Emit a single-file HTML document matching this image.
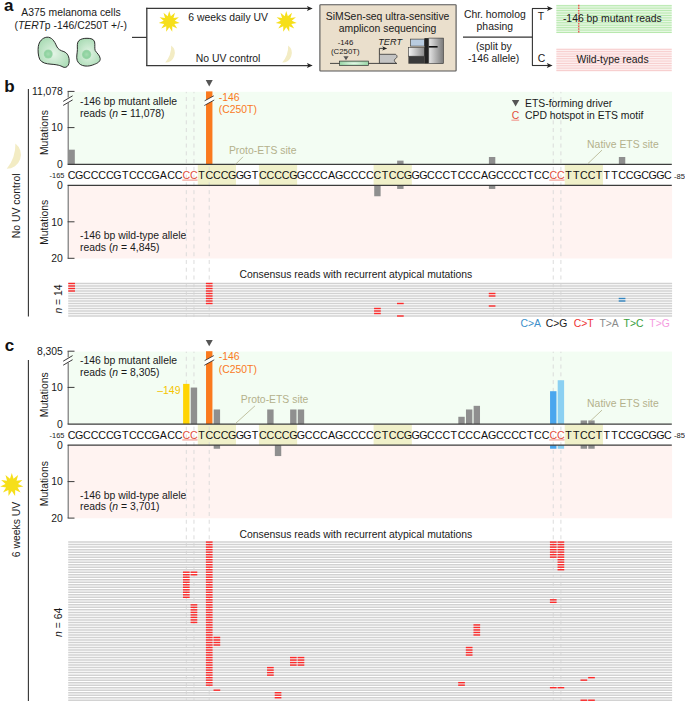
<!DOCTYPE html>
<html><head><meta charset="utf-8"><style>
html,body{margin:0;padding:0;background:#fff;}
svg{display:block;}
text{font-family:"Liberation Sans", sans-serif;}
</style></head><body>
<svg width="685" height="701" viewBox="0 0 685 701">
<rect width="685" height="701" fill="#fff"/>
<text x="4.10" y="10.50" font-size="17" fill="#111" text-anchor="start" font-weight="bold" font-style="normal" >a</text>
<text x="71.00" y="15.80" font-size="10.4" fill="#1a1a1a" text-anchor="middle" font-weight="normal" font-style="normal" >A375 melanoma cells</text>
<text x="70.7" y="29.2" font-size="10.4" fill="#1a1a1a" text-anchor="middle">(<tspan font-style="italic">TERT</tspan>p -146/C250T +/-)</text>
<defs><radialGradient id="cellg" cx="50%" cy="55%" r="60%"><stop offset="0" stop-color="#e4f4e6"/><stop offset="1" stop-color="#a9dbb4"/></radialGradient><radialGradient id="nucg"><stop offset="0" stop-color="#a6dcb1"/><stop offset="0.7" stop-color="#8ed2a0"/><stop offset="1" stop-color="#9ed8ab"/></radialGradient><linearGradient id="boxg" x1="0" x2="1"><stop offset="0" stop-color="#f4f4f4"/><stop offset="1" stop-color="#8a8a8a"/></linearGradient><linearGradient id="boxg2" x1="0" x2="1"><stop offset="0" stop-color="#e6e6e6"/><stop offset="1" stop-color="#7a7a7a"/></linearGradient><radialGradient id="amp" cx="50%" cy="50%" r="50%"><stop offset="0" stop-color="#e8f8ea"/><stop offset="1" stop-color="#9bd6a8"/></radialGradient></defs>
<path d="M46.9,37.2 C51.5,36.8 54.5,41 56.5,46 C58,49.5 60.5,50.5 63.9,51.6 C67.5,53 69.6,57 69.1,62.1 C68.6,66.5 66,68.2 63,67 C60.5,65.5 57,64.6 51,64.2 C46,63.8 42,63 39.8,59.5 C38,56 37.8,50 38.3,46.5 C39,41.5 42.5,37.6 46.9,37.2Z" fill="url(#cellg)" stroke="#222" stroke-width="0.95"/>
<circle cx="48.2" cy="54" r="4.5" fill="url(#nucg)"/>
<path d="M79,40.5 C81,38.8 84,38.3 87,38.3 C91,38.3 93.8,39 94.6,42 C95.2,45 94.4,48.5 95.2,50.5 C96.5,53 99.8,55 100.2,58.5 C100.5,61.5 97.5,63.2 94.5,64.3 C91.5,65.6 88.5,66.4 85,66 C81.5,65.6 78.5,64 77.2,60.5 C76,57 77.4,53 77.4,49.5 C77.4,46 76.8,42.5 79,40.5Z" fill="url(#cellg)" stroke="#222" stroke-width="0.95"/>
<circle cx="86.6" cy="54.5" r="4.7" fill="url(#nucg)"/>
<line x1="132.00" y1="37.40" x2="146.80" y2="37.40" stroke="#383838" stroke-width="1.2" />
<line x1="146.80" y1="7.70" x2="146.80" y2="66.10" stroke="#383838" stroke-width="1.3" />
<line x1="146.20" y1="8.40" x2="309.00" y2="8.40" stroke="#383838" stroke-width="1.2" />
<line x1="146.20" y1="65.60" x2="309.00" y2="65.60" stroke="#383838" stroke-width="1.2" />
<path d="M312.70,8.40 L306.90,5.90 L308.20,8.40 L306.90,10.90Z" fill="#222"/>
<path d="M312.70,65.60 L306.90,63.10 L308.20,65.60 L306.90,68.10Z" fill="#222"/>
<polygon points="169.25,11.00 170.83,16.23 174.98,12.68 173.48,17.93 178.89,17.20 174.79,20.80 179.74,23.11 174.34,23.93 177.26,28.54 172.28,26.31 172.24,31.77 169.25,27.20 166.26,31.77 166.22,26.31 161.24,28.54 164.16,23.93 158.76,23.11 163.71,20.80 159.61,17.20 165.02,17.93 163.52,12.68 167.67,16.23" fill="#f6df1a"/>
<polygon points="286.25,11.00 287.83,16.23 291.98,12.68 290.48,17.93 295.89,17.20 291.79,20.80 296.74,23.11 291.34,23.93 294.26,28.54 289.28,26.31 289.24,31.77 286.25,27.20 283.26,31.77 283.22,26.31 278.24,28.54 281.16,23.93 275.76,23.11 280.71,20.80 276.61,17.20 282.02,17.93 280.52,12.68 284.67,16.23" fill="#f6df1a"/>
<text x="228.10" y="20.70" font-size="10.4" fill="#1a1a1a" text-anchor="middle" font-weight="normal" font-style="normal" >6 weeks daily UV</text>
<text x="228.10" y="62.00" font-size="10.4" fill="#1a1a1a" text-anchor="middle" font-weight="normal" font-style="normal" >No UV control</text>
<path d="M171.20,45.60 A9.55,9.55 0 0 1 165.20,62.60 A24.75,24.75 0 0 0 171.20,45.60Z" fill="#f3ecc4"/>
<path d="M288.20,45.60 A9.55,9.55 0 0 1 282.20,62.60 A24.75,24.75 0 0 0 288.20,45.60Z" fill="#f3ecc4"/>
<rect x="319.9" y="4.7" width="136.2" height="66.3" rx="0.6" fill="#eadfcc" stroke="#555" stroke-width="1.1"/>
<text x="387.60" y="20.00" font-size="10.4" fill="#1a1a1a" text-anchor="middle" font-weight="normal" font-style="normal" >SiMSen-seq ultra-sensitive</text>
<text x="387.60" y="32.40" font-size="10.4" fill="#1a1a1a" text-anchor="middle" font-weight="normal" font-style="normal" >amplicon sequencing</text>
<text x="345.50" y="44.80" font-size="7.8" fill="#1a1a1a" text-anchor="middle" font-weight="normal" font-style="normal" >-146</text>
<text x="345.30" y="54.30" font-size="7.8" fill="#1a1a1a" text-anchor="middle" font-weight="normal" font-style="normal" >(C250T)</text>
<polygon points="343.4,56.2 348.6,56.2 346.0,60.2" fill="#555"/>
<line x1="330.00" y1="63.40" x2="397.00" y2="63.40" stroke="#333" stroke-width="0.9" />
<rect x="339.5" y="61.1" width="29" height="4.3" fill="url(#amp)" stroke="#333" stroke-width="0.7"/>
<text x="378.20" y="44.80" font-size="9.2" fill="#1a1a1a" text-anchor="start" font-weight="normal" font-style="italic" >TERT</text>
<path d="M379.4,54.3 L395.4,54.3 C397.6,55.4 397.4,57.6 395.6,58.6 C393.6,59.8 394.2,61.6 396.4,63.3 L379.4,63.3Z" fill="#c4c4c4" stroke="#333" stroke-width="0.8"/>
<path d="M379.4,54.3 L379.4,48.4 L384.3,48.4" fill="none" stroke="#222" stroke-width="0.8"/>
<path d="M387.20,48.40 L382.20,46.20 L383.50,48.40 L382.20,50.60Z" fill="#222"/>
<rect x="410.6" y="39.1" width="14" height="7" fill="#b9cce0" stroke="#333" stroke-width="0.6"/>
<rect x="408.4" y="47.6" width="16.2" height="8.6" fill="url(#boxg)" stroke="#333" stroke-width="0.6"/>
<rect x="408.4" y="56.2" width="16.2" height="7.5" fill="#3a3a3a"/>
<rect x="424.4" y="38.1" width="4.4" height="25.6" fill="#222"/>
<rect x="428.8" y="38.1" width="14.6" height="25.6" fill="url(#boxg2)" stroke="#333" stroke-width="0.6"/>
<line x1="428.80" y1="46.80" x2="437.60" y2="46.80" stroke="#111" stroke-width="1.6" />
<text x="494.80" y="18.00" font-size="10.4" fill="#1a1a1a" text-anchor="middle" font-weight="normal" font-style="normal" >Chr. homolog</text>
<text x="494.80" y="29.90" font-size="10.4" fill="#1a1a1a" text-anchor="middle" font-weight="normal" font-style="normal" >phasing</text>
<line x1="463.00" y1="37.10" x2="532.40" y2="37.10" stroke="#333" stroke-width="1.1" />
<text x="493.80" y="49.90" font-size="10.4" fill="#1a1a1a" text-anchor="middle" font-weight="normal" font-style="normal" >(split by</text>
<text x="493.60" y="61.80" font-size="10.4" fill="#1a1a1a" text-anchor="middle" font-weight="normal" font-style="normal" >-146 allele)</text>
<line x1="532.40" y1="8.50" x2="532.40" y2="65.50" stroke="#333" stroke-width="1.1" />
<line x1="532.00" y1="8.50" x2="549.00" y2="8.50" stroke="#333" stroke-width="1.1" />
<line x1="532.00" y1="65.50" x2="549.00" y2="65.50" stroke="#333" stroke-width="1.1" />
<path d="M552.80,8.50 L547.00,6.00 L548.30,8.50 L547.00,11.00Z" fill="#222"/>
<path d="M552.60,65.50 L546.80,63.00 L548.10,65.50 L546.80,68.00Z" fill="#222"/>
<text x="541.00" y="19.70" font-size="10.4" fill="#1a1a1a" text-anchor="middle" font-weight="normal" font-style="normal" >T</text>
<text x="541.40" y="61.80" font-size="10.4" fill="#1a1a1a" text-anchor="middle" font-weight="normal" font-style="normal" >C</text>
<rect x="556.40" y="4.80" width="115.30" height="28.20" fill="#e6f7e2" />
<line x1="556.40" y1="5.70" x2="671.70" y2="5.70" stroke="#b6e8ad" stroke-width="1.0" />
<line x1="556.40" y1="8.14" x2="671.70" y2="8.14" stroke="#b6e8ad" stroke-width="1.0" />
<line x1="556.40" y1="10.58" x2="671.70" y2="10.58" stroke="#b6e8ad" stroke-width="1.0" />
<line x1="556.40" y1="13.02" x2="671.70" y2="13.02" stroke="#b6e8ad" stroke-width="1.0" />
<line x1="556.40" y1="15.46" x2="671.70" y2="15.46" stroke="#b6e8ad" stroke-width="1.0" />
<line x1="556.40" y1="17.90" x2="671.70" y2="17.90" stroke="#b6e8ad" stroke-width="1.0" />
<line x1="556.40" y1="20.34" x2="671.70" y2="20.34" stroke="#b6e8ad" stroke-width="1.0" />
<line x1="556.40" y1="22.78" x2="671.70" y2="22.78" stroke="#b6e8ad" stroke-width="1.0" />
<line x1="556.40" y1="25.22" x2="671.70" y2="25.22" stroke="#b6e8ad" stroke-width="1.0" />
<line x1="556.40" y1="27.66" x2="671.70" y2="27.66" stroke="#b6e8ad" stroke-width="1.0" />
<line x1="556.40" y1="30.10" x2="671.70" y2="30.10" stroke="#b6e8ad" stroke-width="1.0" />
<line x1="556.40" y1="32.54" x2="671.70" y2="32.54" stroke="#b6e8ad" stroke-width="1.0" />
<line x1="578.8" y1="4.8" x2="578.8" y2="33" stroke="#f03030" stroke-width="1.1" stroke-dasharray="1.6,1.0"/>
<text x="612.30" y="21.60" font-size="10.4" fill="#1a1a1a" text-anchor="middle" font-weight="normal" font-style="normal" >-146 bp mutant reads</text>
<rect x="556.40" y="48.60" width="115.30" height="23.00" fill="#fdf0f0" />
<line x1="556.40" y1="49.30" x2="671.70" y2="49.30" stroke="#f7cccc" stroke-width="1.0" />
<line x1="556.40" y1="51.65" x2="671.70" y2="51.65" stroke="#f7cccc" stroke-width="1.0" />
<line x1="556.40" y1="54.00" x2="671.70" y2="54.00" stroke="#f7cccc" stroke-width="1.0" />
<line x1="556.40" y1="56.35" x2="671.70" y2="56.35" stroke="#f7cccc" stroke-width="1.0" />
<line x1="556.40" y1="58.70" x2="671.70" y2="58.70" stroke="#f7cccc" stroke-width="1.0" />
<line x1="556.40" y1="61.05" x2="671.70" y2="61.05" stroke="#f7cccc" stroke-width="1.0" />
<line x1="556.40" y1="63.40" x2="671.70" y2="63.40" stroke="#f7cccc" stroke-width="1.0" />
<line x1="556.40" y1="65.75" x2="671.70" y2="65.75" stroke="#f7cccc" stroke-width="1.0" />
<line x1="556.40" y1="68.10" x2="671.70" y2="68.10" stroke="#f7cccc" stroke-width="1.0" />
<line x1="556.40" y1="70.45" x2="671.70" y2="70.45" stroke="#f7cccc" stroke-width="1.0" />
<text x="612.50" y="62.60" font-size="10.4" fill="#1a1a1a" text-anchor="middle" font-weight="normal" font-style="normal" >Wild-type reads</text>
<rect x="68.90" y="91.80" width="603.10" height="72.50" fill="#f3fdf3" />
<rect x="68.90" y="185.30" width="603.20" height="73.20" fill="#fff3f1" />
<rect x="197.76" y="164.30" width="38.22" height="21.00" fill="#f0f0c9" />
<rect x="258.93" y="164.30" width="38.22" height="21.00" fill="#f0f0c9" />
<rect x="373.60" y="164.30" width="38.22" height="21.00" fill="#f0f0c9" />
<rect x="564.72" y="164.30" width="38.22" height="21.00" fill="#f0f0c9" />
<line x1="186.30" y1="91.90" x2="186.30" y2="317.00" stroke="#d8d8d8" stroke-width="0.9" stroke-dasharray="4.0,3.76" stroke-dashoffset="2.65"/>
<line x1="193.94" y1="91.90" x2="193.94" y2="317.00" stroke="#d8d8d8" stroke-width="0.9" stroke-dasharray="4.0,3.76" stroke-dashoffset="2.65"/>
<line x1="209.23" y1="91.90" x2="209.23" y2="317.00" stroke="#d8d8d8" stroke-width="0.9" stroke-dasharray="4.0,3.76" stroke-dashoffset="2.65"/>
<line x1="553.26" y1="91.90" x2="553.26" y2="317.00" stroke="#d8d8d8" stroke-width="0.9" stroke-dasharray="4.0,3.76" stroke-dashoffset="2.65"/>
<line x1="560.90" y1="91.90" x2="560.90" y2="317.00" stroke="#d8d8d8" stroke-width="0.9" stroke-dasharray="4.0,3.76" stroke-dashoffset="2.65"/>
<rect x="68.42" y="149.68" width="6.40" height="14.62" fill="#8f8f8f" />
<rect x="206.03" y="91.40" width="6.40" height="72.90" fill="#fa7a1e" />
<rect x="397.16" y="160.65" width="6.40" height="3.65" fill="#8f8f8f" />
<rect x="488.90" y="156.99" width="6.40" height="7.31" fill="#8f8f8f" />
<rect x="618.86" y="156.99" width="6.40" height="7.31" fill="#8f8f8f" />
<rect x="374.22" y="185.30" width="6.40" height="10.96" fill="#8f8f8f" />
<rect x="397.16" y="185.30" width="6.40" height="3.65" fill="#8f8f8f" />
<rect x="488.90" y="185.30" width="6.40" height="3.65" fill="#8f8f8f" />
<line x1="68.25" y1="91.40" x2="68.25" y2="164.30" stroke="#8c8c8c" stroke-width="1.4" />
<line x1="68.25" y1="185.30" x2="68.25" y2="258.30" stroke="#8c8c8c" stroke-width="1.4" />
<line x1="67.60" y1="91.40" x2="74.50" y2="91.40" stroke="#3c3c3c" stroke-width="1" />
<line x1="67.60" y1="127.60" x2="74.50" y2="127.60" stroke="#3c3c3c" stroke-width="1" />
<line x1="67.60" y1="221.80" x2="74.50" y2="221.80" stroke="#3c3c3c" stroke-width="1" />
<line x1="67.60" y1="258.30" x2="74.50" y2="258.30" stroke="#3c3c3c" stroke-width="1" />
<rect x="66.00" y="97.50" width="5.00" height="5.50" fill="#ffffff" />
<line x1="63.20" y1="101.40" x2="72.60" y2="95.80" stroke="#222" stroke-width="0.9" />
<line x1="63.20" y1="105.40" x2="72.60" y2="99.90" stroke="#222" stroke-width="0.9" />
<polygon points="204.33,105.50 214.23,100.00 213.83,95.80 204.63,100.80" fill="#ffffff"/>
<line x1="204.63" y1="100.80" x2="213.83" y2="95.80" stroke="#222" stroke-width="0.8" />
<line x1="204.33" y1="105.50" x2="214.23" y2="100.00" stroke="#222" stroke-width="0.8" />
<polygon points="205.73,80.10 212.73,80.10 209.23,86.50" fill="#555"/>
<line x1="67.60" y1="164.30" x2="671.80" y2="164.30" stroke="#3c3c3c" stroke-width="1.2" />
<line x1="67.60" y1="185.30" x2="671.80" y2="185.30" stroke="#3c3c3c" stroke-width="1.2" />
<text x="62.90" y="94.90" font-size="10.4" fill="#1a1a1a" text-anchor="end" font-weight="normal" font-style="normal" >11,078</text>
<text x="62.90" y="131.40" font-size="10.4" fill="#1a1a1a" text-anchor="end" font-weight="normal" font-style="normal" >10</text>
<text x="62.90" y="167.90" font-size="10.4" fill="#1a1a1a" text-anchor="end" font-weight="normal" font-style="normal" >0</text>
<text x="62.90" y="189.00" font-size="10.4" fill="#1a1a1a" text-anchor="end" font-weight="normal" font-style="normal" >0</text>
<text x="62.90" y="225.50" font-size="10.4" fill="#1a1a1a" text-anchor="end" font-weight="normal" font-style="normal" >10</text>
<text x="62.90" y="262.00" font-size="10.4" fill="#1a1a1a" text-anchor="end" font-weight="normal" font-style="normal" >20</text>
<text transform="translate(48.1,132.50) rotate(-90)" font-size="10.4" fill="#1a1a1a" text-anchor="middle">Mutations</text>
<text transform="translate(48.1,222.30) rotate(-90)" font-size="10.4" fill="#1a1a1a" text-anchor="middle">Mutations</text>
<text x="71.62" y="178.90" font-size="10.67" fill="#111" text-anchor="middle" font-weight="normal" font-style="normal" >C</text>
<text x="79.27" y="178.90" font-size="10.67" fill="#111" text-anchor="middle" font-weight="normal" font-style="normal" >G</text>
<text x="86.91" y="178.90" font-size="10.67" fill="#111" text-anchor="middle" font-weight="normal" font-style="normal" >C</text>
<text x="94.56" y="178.90" font-size="10.67" fill="#111" text-anchor="middle" font-weight="normal" font-style="normal" >C</text>
<text x="102.20" y="178.90" font-size="10.67" fill="#111" text-anchor="middle" font-weight="normal" font-style="normal" >C</text>
<text x="109.85" y="178.90" font-size="10.67" fill="#111" text-anchor="middle" font-weight="normal" font-style="normal" >C</text>
<text x="117.49" y="178.90" font-size="10.67" fill="#111" text-anchor="middle" font-weight="normal" font-style="normal" >G</text>
<text x="125.14" y="178.90" font-size="10.67" fill="#111" text-anchor="middle" font-weight="normal" font-style="normal" >T</text>
<text x="132.78" y="178.90" font-size="10.67" fill="#111" text-anchor="middle" font-weight="normal" font-style="normal" >C</text>
<text x="140.43" y="178.90" font-size="10.67" fill="#111" text-anchor="middle" font-weight="normal" font-style="normal" >C</text>
<text x="148.07" y="178.90" font-size="10.67" fill="#111" text-anchor="middle" font-weight="normal" font-style="normal" >C</text>
<text x="155.72" y="178.90" font-size="10.67" fill="#111" text-anchor="middle" font-weight="normal" font-style="normal" >G</text>
<text x="163.36" y="178.90" font-size="10.67" fill="#111" text-anchor="middle" font-weight="normal" font-style="normal" >A</text>
<text x="171.01" y="178.90" font-size="10.67" fill="#111" text-anchor="middle" font-weight="normal" font-style="normal" >C</text>
<text x="178.65" y="178.90" font-size="10.67" fill="#111" text-anchor="middle" font-weight="normal" font-style="normal" >C</text>
<text x="186.30" y="178.90" font-size="10.67" fill="#e2503e" text-anchor="middle" font-weight="normal" font-style="normal" >C</text>
<text x="193.94" y="178.90" font-size="10.67" fill="#e2503e" text-anchor="middle" font-weight="normal" font-style="normal" >C</text>
<text x="201.59" y="178.90" font-size="10.67" fill="#111" text-anchor="middle" font-weight="normal" font-style="normal" >T</text>
<text x="209.23" y="178.90" font-size="10.67" fill="#111" text-anchor="middle" font-weight="normal" font-style="normal" >C</text>
<text x="216.88" y="178.90" font-size="10.67" fill="#111" text-anchor="middle" font-weight="normal" font-style="normal" >C</text>
<text x="224.52" y="178.90" font-size="10.67" fill="#111" text-anchor="middle" font-weight="normal" font-style="normal" >C</text>
<text x="232.17" y="178.90" font-size="10.67" fill="#111" text-anchor="middle" font-weight="normal" font-style="normal" >G</text>
<text x="239.81" y="178.90" font-size="10.67" fill="#111" text-anchor="middle" font-weight="normal" font-style="normal" >G</text>
<text x="247.46" y="178.90" font-size="10.67" fill="#111" text-anchor="middle" font-weight="normal" font-style="normal" >G</text>
<text x="255.10" y="178.90" font-size="10.67" fill="#111" text-anchor="middle" font-weight="normal" font-style="normal" >T</text>
<text x="262.75" y="178.90" font-size="10.67" fill="#111" text-anchor="middle" font-weight="normal" font-style="normal" >C</text>
<text x="270.39" y="178.90" font-size="10.67" fill="#111" text-anchor="middle" font-weight="normal" font-style="normal" >C</text>
<text x="278.04" y="178.90" font-size="10.67" fill="#111" text-anchor="middle" font-weight="normal" font-style="normal" >C</text>
<text x="285.68" y="178.90" font-size="10.67" fill="#111" text-anchor="middle" font-weight="normal" font-style="normal" >C</text>
<text x="293.33" y="178.90" font-size="10.67" fill="#111" text-anchor="middle" font-weight="normal" font-style="normal" >G</text>
<text x="300.97" y="178.90" font-size="10.67" fill="#111" text-anchor="middle" font-weight="normal" font-style="normal" >G</text>
<text x="308.62" y="178.90" font-size="10.67" fill="#111" text-anchor="middle" font-weight="normal" font-style="normal" >C</text>
<text x="316.26" y="178.90" font-size="10.67" fill="#111" text-anchor="middle" font-weight="normal" font-style="normal" >C</text>
<text x="323.91" y="178.90" font-size="10.67" fill="#111" text-anchor="middle" font-weight="normal" font-style="normal" >C</text>
<text x="331.55" y="178.90" font-size="10.67" fill="#111" text-anchor="middle" font-weight="normal" font-style="normal" >A</text>
<text x="339.20" y="178.90" font-size="10.67" fill="#111" text-anchor="middle" font-weight="normal" font-style="normal" >G</text>
<text x="346.84" y="178.90" font-size="10.67" fill="#111" text-anchor="middle" font-weight="normal" font-style="normal" >C</text>
<text x="354.49" y="178.90" font-size="10.67" fill="#111" text-anchor="middle" font-weight="normal" font-style="normal" >C</text>
<text x="362.13" y="178.90" font-size="10.67" fill="#111" text-anchor="middle" font-weight="normal" font-style="normal" >C</text>
<text x="369.78" y="178.90" font-size="10.67" fill="#111" text-anchor="middle" font-weight="normal" font-style="normal" >C</text>
<text x="377.42" y="178.90" font-size="10.67" fill="#111" text-anchor="middle" font-weight="normal" font-style="normal" >C</text>
<text x="385.07" y="178.90" font-size="10.67" fill="#111" text-anchor="middle" font-weight="normal" font-style="normal" >T</text>
<text x="392.71" y="178.90" font-size="10.67" fill="#111" text-anchor="middle" font-weight="normal" font-style="normal" >C</text>
<text x="400.36" y="178.90" font-size="10.67" fill="#111" text-anchor="middle" font-weight="normal" font-style="normal" >C</text>
<text x="408.00" y="178.90" font-size="10.67" fill="#111" text-anchor="middle" font-weight="normal" font-style="normal" >G</text>
<text x="415.65" y="178.90" font-size="10.67" fill="#111" text-anchor="middle" font-weight="normal" font-style="normal" >G</text>
<text x="423.29" y="178.90" font-size="10.67" fill="#111" text-anchor="middle" font-weight="normal" font-style="normal" >G</text>
<text x="430.94" y="178.90" font-size="10.67" fill="#111" text-anchor="middle" font-weight="normal" font-style="normal" >C</text>
<text x="438.58" y="178.90" font-size="10.67" fill="#111" text-anchor="middle" font-weight="normal" font-style="normal" >C</text>
<text x="446.23" y="178.90" font-size="10.67" fill="#111" text-anchor="middle" font-weight="normal" font-style="normal" >C</text>
<text x="453.87" y="178.90" font-size="10.67" fill="#111" text-anchor="middle" font-weight="normal" font-style="normal" >T</text>
<text x="461.52" y="178.90" font-size="10.67" fill="#111" text-anchor="middle" font-weight="normal" font-style="normal" >C</text>
<text x="469.16" y="178.90" font-size="10.67" fill="#111" text-anchor="middle" font-weight="normal" font-style="normal" >C</text>
<text x="476.81" y="178.90" font-size="10.67" fill="#111" text-anchor="middle" font-weight="normal" font-style="normal" >C</text>
<text x="484.45" y="178.90" font-size="10.67" fill="#111" text-anchor="middle" font-weight="normal" font-style="normal" >A</text>
<text x="492.10" y="178.90" font-size="10.67" fill="#111" text-anchor="middle" font-weight="normal" font-style="normal" >G</text>
<text x="499.74" y="178.90" font-size="10.67" fill="#111" text-anchor="middle" font-weight="normal" font-style="normal" >C</text>
<text x="507.39" y="178.90" font-size="10.67" fill="#111" text-anchor="middle" font-weight="normal" font-style="normal" >C</text>
<text x="515.03" y="178.90" font-size="10.67" fill="#111" text-anchor="middle" font-weight="normal" font-style="normal" >C</text>
<text x="522.68" y="178.90" font-size="10.67" fill="#111" text-anchor="middle" font-weight="normal" font-style="normal" >C</text>
<text x="530.32" y="178.90" font-size="10.67" fill="#111" text-anchor="middle" font-weight="normal" font-style="normal" >T</text>
<text x="537.97" y="178.90" font-size="10.67" fill="#111" text-anchor="middle" font-weight="normal" font-style="normal" >C</text>
<text x="545.61" y="178.90" font-size="10.67" fill="#111" text-anchor="middle" font-weight="normal" font-style="normal" >C</text>
<text x="553.26" y="178.90" font-size="10.67" fill="#e2503e" text-anchor="middle" font-weight="normal" font-style="normal" >C</text>
<text x="560.90" y="178.90" font-size="10.67" fill="#e2503e" text-anchor="middle" font-weight="normal" font-style="normal" >C</text>
<text x="568.55" y="178.90" font-size="10.67" fill="#111" text-anchor="middle" font-weight="normal" font-style="normal" >T</text>
<text x="576.19" y="178.90" font-size="10.67" fill="#111" text-anchor="middle" font-weight="normal" font-style="normal" >T</text>
<text x="583.84" y="178.90" font-size="10.67" fill="#111" text-anchor="middle" font-weight="normal" font-style="normal" >C</text>
<text x="591.48" y="178.90" font-size="10.67" fill="#111" text-anchor="middle" font-weight="normal" font-style="normal" >C</text>
<text x="599.13" y="178.90" font-size="10.67" fill="#111" text-anchor="middle" font-weight="normal" font-style="normal" >T</text>
<text x="606.77" y="178.90" font-size="10.67" fill="#111" text-anchor="middle" font-weight="normal" font-style="normal" >T</text>
<text x="614.42" y="178.90" font-size="10.67" fill="#111" text-anchor="middle" font-weight="normal" font-style="normal" >T</text>
<text x="622.06" y="178.90" font-size="10.67" fill="#111" text-anchor="middle" font-weight="normal" font-style="normal" >C</text>
<text x="629.71" y="178.90" font-size="10.67" fill="#111" text-anchor="middle" font-weight="normal" font-style="normal" >C</text>
<text x="637.35" y="178.90" font-size="10.67" fill="#111" text-anchor="middle" font-weight="normal" font-style="normal" >G</text>
<text x="645.00" y="178.90" font-size="10.67" fill="#111" text-anchor="middle" font-weight="normal" font-style="normal" >C</text>
<text x="652.64" y="178.90" font-size="10.67" fill="#111" text-anchor="middle" font-weight="normal" font-style="normal" >G</text>
<text x="660.29" y="178.90" font-size="10.67" fill="#111" text-anchor="middle" font-weight="normal" font-style="normal" >G</text>
<text x="667.93" y="178.90" font-size="10.67" fill="#111" text-anchor="middle" font-weight="normal" font-style="normal" >C</text>
<line x1="182.28" y1="180.10" x2="197.56" y2="180.10" stroke="#f2a69c" stroke-width="1.3" />
<line x1="549.23" y1="180.10" x2="564.52" y2="180.10" stroke="#f2a69c" stroke-width="1.3" />
<text x="64.40" y="178.40" font-size="7.4" fill="#1a1a1a" text-anchor="end" font-weight="normal" font-style="normal" >-165</text>
<text x="673.90" y="178.50" font-size="7.6" fill="#1a1a1a" text-anchor="start" font-weight="normal" font-style="normal" >-85</text>
<text x="80.00" y="104.50" font-size="10.4" fill="#1a1a1a" text-anchor="start" font-weight="normal" font-style="normal" >-146 bp mutant allele</text>
<text x="80" y="117.00" font-size="10.4" fill="#1a1a1a">reads (<tspan font-style="italic">n</tspan> = 11,078)</text>
<text x="80.00" y="239.00" font-size="10.4" fill="#1a1a1a" text-anchor="start" font-weight="normal" font-style="normal" >-146 bp wild-type allele</text>
<text x="80" y="251.20" font-size="10.4" fill="#1a1a1a">reads (<tspan font-style="italic">n</tspan> = 4,845)</text>
<text x="218.80" y="100.60" font-size="10.4" fill="#fa7a1e" text-anchor="start" font-weight="normal" font-style="normal" >-146</text>
<text x="218.80" y="112.80" font-size="10.4" fill="#fa7a1e" text-anchor="start" font-weight="normal" font-style="normal" >(C250T)</text>
<text x="228.90" y="153.80" font-size="10.4" fill="#b3b18c" text-anchor="start" font-weight="normal" font-style="normal" >Proto-ETS site</text>
<line x1="243.00" y1="156.80" x2="235.50" y2="164.30" stroke="#b3b18c" stroke-width="0.8" />
<text x="587.10" y="147.50" font-size="10.4" fill="#b3b18c" text-anchor="start" font-weight="normal" font-style="normal" >Native ETS site</text>
<line x1="602.00" y1="150.10" x2="587.90" y2="163.60" stroke="#b3b18c" stroke-width="0.8" />
<text x="4.20" y="92.20" font-size="17" fill="#111" text-anchor="start" font-weight="bold" font-style="normal" >b</text>
<line x1="68.20" y1="283.50" x2="672.10" y2="283.50" stroke="#d2d2d2" stroke-width="1.5" />
<line x1="68.20" y1="286.00" x2="672.10" y2="286.00" stroke="#d2d2d2" stroke-width="1.5" />
<line x1="68.20" y1="288.50" x2="672.10" y2="288.50" stroke="#d2d2d2" stroke-width="1.5" />
<line x1="68.20" y1="291.00" x2="672.10" y2="291.00" stroke="#d2d2d2" stroke-width="1.5" />
<line x1="68.20" y1="293.50" x2="672.10" y2="293.50" stroke="#d2d2d2" stroke-width="1.5" />
<line x1="68.20" y1="296.00" x2="672.10" y2="296.00" stroke="#d2d2d2" stroke-width="1.5" />
<line x1="68.20" y1="298.50" x2="672.10" y2="298.50" stroke="#d2d2d2" stroke-width="1.5" />
<line x1="68.20" y1="301.00" x2="672.10" y2="301.00" stroke="#d2d2d2" stroke-width="1.5" />
<line x1="68.20" y1="303.50" x2="672.10" y2="303.50" stroke="#d2d2d2" stroke-width="1.5" />
<line x1="68.20" y1="306.00" x2="672.10" y2="306.00" stroke="#d2d2d2" stroke-width="1.5" />
<line x1="68.20" y1="308.50" x2="672.10" y2="308.50" stroke="#d2d2d2" stroke-width="1.5" />
<line x1="68.20" y1="311.00" x2="672.10" y2="311.00" stroke="#d2d2d2" stroke-width="1.5" />
<line x1="68.20" y1="313.50" x2="672.10" y2="313.50" stroke="#d2d2d2" stroke-width="1.5" />
<line x1="68.20" y1="316.00" x2="672.10" y2="316.00" stroke="#d2d2d2" stroke-width="1.5" />
<line x1="68.27" y1="283.50" x2="74.97" y2="283.50" stroke="#fc2a2a" stroke-width="1.4" />
<line x1="68.27" y1="286.00" x2="74.97" y2="286.00" stroke="#fc2a2a" stroke-width="1.4" />
<line x1="68.27" y1="288.50" x2="74.97" y2="288.50" stroke="#fc2a2a" stroke-width="1.4" />
<line x1="68.27" y1="291.00" x2="74.97" y2="291.00" stroke="#fc2a2a" stroke-width="1.4" />
<line x1="205.88" y1="283.50" x2="212.58" y2="283.50" stroke="#fc2a2a" stroke-width="1.4" />
<line x1="205.88" y1="286.00" x2="212.58" y2="286.00" stroke="#fc2a2a" stroke-width="1.4" />
<line x1="205.88" y1="288.50" x2="212.58" y2="288.50" stroke="#fc2a2a" stroke-width="1.4" />
<line x1="205.88" y1="291.00" x2="212.58" y2="291.00" stroke="#fc2a2a" stroke-width="1.4" />
<line x1="205.88" y1="293.50" x2="212.58" y2="293.50" stroke="#fc2a2a" stroke-width="1.4" />
<line x1="205.88" y1="296.00" x2="212.58" y2="296.00" stroke="#fc2a2a" stroke-width="1.4" />
<line x1="205.88" y1="298.50" x2="212.58" y2="298.50" stroke="#fc2a2a" stroke-width="1.4" />
<line x1="205.88" y1="301.00" x2="212.58" y2="301.00" stroke="#fc2a2a" stroke-width="1.4" />
<line x1="205.88" y1="303.50" x2="212.58" y2="303.50" stroke="#fc2a2a" stroke-width="1.4" />
<line x1="374.07" y1="308.50" x2="380.77" y2="308.50" stroke="#fc2a2a" stroke-width="1.4" />
<line x1="374.07" y1="311.00" x2="380.77" y2="311.00" stroke="#fc2a2a" stroke-width="1.4" />
<line x1="374.07" y1="313.50" x2="380.77" y2="313.50" stroke="#fc2a2a" stroke-width="1.4" />
<line x1="397.01" y1="303.50" x2="403.71" y2="303.50" stroke="#fc2a2a" stroke-width="1.4" />
<line x1="397.01" y1="316.00" x2="403.71" y2="316.00" stroke="#fc2a2a" stroke-width="1.4" />
<line x1="488.75" y1="293.50" x2="495.45" y2="293.50" stroke="#fc2a2a" stroke-width="1.4" />
<line x1="488.75" y1="296.00" x2="495.45" y2="296.00" stroke="#fc2a2a" stroke-width="1.4" />
<line x1="488.75" y1="306.00" x2="495.45" y2="306.00" stroke="#fc2a2a" stroke-width="1.4" />
<line x1="618.71" y1="298.50" x2="625.41" y2="298.50" stroke="#3285c0" stroke-width="1.4" />
<line x1="618.71" y1="301.00" x2="625.41" y2="301.00" stroke="#3285c0" stroke-width="1.4" />
<rect x="68.90" y="351.60" width="603.10" height="72.50" fill="#f3fdf3" />
<rect x="68.90" y="445.10" width="603.20" height="73.20" fill="#fff3f1" />
<rect x="197.76" y="424.10" width="38.22" height="21.00" fill="#f0f0c9" />
<rect x="258.93" y="424.10" width="38.22" height="21.00" fill="#f0f0c9" />
<rect x="373.60" y="424.10" width="38.22" height="21.00" fill="#f0f0c9" />
<rect x="564.72" y="424.10" width="38.22" height="21.00" fill="#f0f0c9" />
<line x1="186.30" y1="351.70" x2="186.30" y2="700.60" stroke="#d8d8d8" stroke-width="0.9" stroke-dasharray="4.0,3.76" stroke-dashoffset="2.65"/>
<line x1="193.94" y1="351.70" x2="193.94" y2="700.60" stroke="#d8d8d8" stroke-width="0.9" stroke-dasharray="4.0,3.76" stroke-dashoffset="2.65"/>
<line x1="209.23" y1="351.70" x2="209.23" y2="700.60" stroke="#d8d8d8" stroke-width="0.9" stroke-dasharray="4.0,3.76" stroke-dashoffset="2.65"/>
<line x1="553.26" y1="351.70" x2="553.26" y2="700.60" stroke="#d8d8d8" stroke-width="0.9" stroke-dasharray="4.0,3.76" stroke-dashoffset="2.65"/>
<line x1="560.90" y1="351.70" x2="560.90" y2="700.60" stroke="#d8d8d8" stroke-width="0.9" stroke-dasharray="4.0,3.76" stroke-dashoffset="2.65"/>
<rect x="183.10" y="383.90" width="6.40" height="40.20" fill="#ffd402" />
<rect x="190.74" y="387.55" width="6.40" height="36.55" fill="#8f8f8f" />
<rect x="206.03" y="351.20" width="6.40" height="72.90" fill="#fa7a1e" />
<rect x="213.68" y="409.48" width="6.40" height="14.62" fill="#8f8f8f" />
<rect x="267.19" y="409.48" width="6.40" height="14.62" fill="#8f8f8f" />
<rect x="290.13" y="409.48" width="6.40" height="14.62" fill="#8f8f8f" />
<rect x="297.77" y="409.48" width="6.40" height="14.62" fill="#8f8f8f" />
<rect x="458.32" y="416.79" width="6.40" height="7.31" fill="#8f8f8f" />
<rect x="465.96" y="409.48" width="6.40" height="14.62" fill="#8f8f8f" />
<rect x="473.61" y="405.83" width="6.40" height="18.27" fill="#8f8f8f" />
<rect x="550.06" y="391.21" width="6.40" height="32.89" fill="#4aa6ee" />
<rect x="557.70" y="380.24" width="6.40" height="43.86" fill="#8bd0f2" />
<rect x="580.64" y="420.45" width="6.40" height="3.65" fill="#8f8f8f" />
<rect x="588.28" y="420.45" width="6.40" height="3.65" fill="#8f8f8f" />
<rect x="213.68" y="445.10" width="6.40" height="3.65" fill="#8f8f8f" />
<rect x="274.84" y="445.10" width="6.40" height="10.96" fill="#8f8f8f" />
<rect x="550.06" y="445.10" width="6.40" height="3.65" fill="#4aa6ee" />
<rect x="557.70" y="445.10" width="6.40" height="3.65" fill="#8bd0f2" />
<rect x="580.64" y="445.10" width="6.40" height="3.65" fill="#8f8f8f" />
<rect x="588.28" y="445.10" width="6.40" height="3.65" fill="#8f8f8f" />
<line x1="68.25" y1="351.20" x2="68.25" y2="424.10" stroke="#8c8c8c" stroke-width="1.4" />
<line x1="68.25" y1="445.10" x2="68.25" y2="518.10" stroke="#8c8c8c" stroke-width="1.4" />
<line x1="67.60" y1="351.20" x2="74.50" y2="351.20" stroke="#3c3c3c" stroke-width="1" />
<line x1="67.60" y1="387.40" x2="74.50" y2="387.40" stroke="#3c3c3c" stroke-width="1" />
<line x1="67.60" y1="481.60" x2="74.50" y2="481.60" stroke="#3c3c3c" stroke-width="1" />
<line x1="67.60" y1="518.10" x2="74.50" y2="518.10" stroke="#3c3c3c" stroke-width="1" />
<rect x="66.00" y="357.30" width="5.00" height="5.50" fill="#ffffff" />
<line x1="63.20" y1="361.20" x2="72.60" y2="355.60" stroke="#222" stroke-width="0.9" />
<line x1="63.20" y1="365.20" x2="72.60" y2="359.70" stroke="#222" stroke-width="0.9" />
<polygon points="204.33,365.30 214.23,359.80 213.83,355.60 204.63,360.60" fill="#ffffff"/>
<line x1="204.63" y1="360.60" x2="213.83" y2="355.60" stroke="#222" stroke-width="0.8" />
<line x1="204.33" y1="365.30" x2="214.23" y2="359.80" stroke="#222" stroke-width="0.8" />
<polygon points="205.73,339.90 212.73,339.90 209.23,346.30" fill="#555"/>
<line x1="67.60" y1="424.10" x2="671.80" y2="424.10" stroke="#3c3c3c" stroke-width="1.2" />
<line x1="67.60" y1="445.10" x2="671.80" y2="445.10" stroke="#3c3c3c" stroke-width="1.2" />
<text x="62.90" y="354.70" font-size="10.4" fill="#1a1a1a" text-anchor="end" font-weight="normal" font-style="normal" >8,305</text>
<text x="62.90" y="391.20" font-size="10.4" fill="#1a1a1a" text-anchor="end" font-weight="normal" font-style="normal" >10</text>
<text x="62.90" y="427.70" font-size="10.4" fill="#1a1a1a" text-anchor="end" font-weight="normal" font-style="normal" >0</text>
<text x="62.90" y="448.80" font-size="10.4" fill="#1a1a1a" text-anchor="end" font-weight="normal" font-style="normal" >0</text>
<text x="62.90" y="485.30" font-size="10.4" fill="#1a1a1a" text-anchor="end" font-weight="normal" font-style="normal" >10</text>
<text x="62.90" y="521.80" font-size="10.4" fill="#1a1a1a" text-anchor="end" font-weight="normal" font-style="normal" >20</text>
<text transform="translate(48.1,394.70) rotate(-90)" font-size="10.4" fill="#1a1a1a" text-anchor="middle">Mutations</text>
<text transform="translate(48.1,483.60) rotate(-90)" font-size="10.4" fill="#1a1a1a" text-anchor="middle">Mutations</text>
<text x="71.62" y="438.70" font-size="10.67" fill="#111" text-anchor="middle" font-weight="normal" font-style="normal" >C</text>
<text x="79.27" y="438.70" font-size="10.67" fill="#111" text-anchor="middle" font-weight="normal" font-style="normal" >G</text>
<text x="86.91" y="438.70" font-size="10.67" fill="#111" text-anchor="middle" font-weight="normal" font-style="normal" >C</text>
<text x="94.56" y="438.70" font-size="10.67" fill="#111" text-anchor="middle" font-weight="normal" font-style="normal" >C</text>
<text x="102.20" y="438.70" font-size="10.67" fill="#111" text-anchor="middle" font-weight="normal" font-style="normal" >C</text>
<text x="109.85" y="438.70" font-size="10.67" fill="#111" text-anchor="middle" font-weight="normal" font-style="normal" >C</text>
<text x="117.49" y="438.70" font-size="10.67" fill="#111" text-anchor="middle" font-weight="normal" font-style="normal" >G</text>
<text x="125.14" y="438.70" font-size="10.67" fill="#111" text-anchor="middle" font-weight="normal" font-style="normal" >T</text>
<text x="132.78" y="438.70" font-size="10.67" fill="#111" text-anchor="middle" font-weight="normal" font-style="normal" >C</text>
<text x="140.43" y="438.70" font-size="10.67" fill="#111" text-anchor="middle" font-weight="normal" font-style="normal" >C</text>
<text x="148.07" y="438.70" font-size="10.67" fill="#111" text-anchor="middle" font-weight="normal" font-style="normal" >C</text>
<text x="155.72" y="438.70" font-size="10.67" fill="#111" text-anchor="middle" font-weight="normal" font-style="normal" >G</text>
<text x="163.36" y="438.70" font-size="10.67" fill="#111" text-anchor="middle" font-weight="normal" font-style="normal" >A</text>
<text x="171.01" y="438.70" font-size="10.67" fill="#111" text-anchor="middle" font-weight="normal" font-style="normal" >C</text>
<text x="178.65" y="438.70" font-size="10.67" fill="#111" text-anchor="middle" font-weight="normal" font-style="normal" >C</text>
<text x="186.30" y="438.70" font-size="10.67" fill="#e2503e" text-anchor="middle" font-weight="normal" font-style="normal" >C</text>
<text x="193.94" y="438.70" font-size="10.67" fill="#e2503e" text-anchor="middle" font-weight="normal" font-style="normal" >C</text>
<text x="201.59" y="438.70" font-size="10.67" fill="#111" text-anchor="middle" font-weight="normal" font-style="normal" >T</text>
<text x="209.23" y="438.70" font-size="10.67" fill="#111" text-anchor="middle" font-weight="normal" font-style="normal" >C</text>
<text x="216.88" y="438.70" font-size="10.67" fill="#111" text-anchor="middle" font-weight="normal" font-style="normal" >C</text>
<text x="224.52" y="438.70" font-size="10.67" fill="#111" text-anchor="middle" font-weight="normal" font-style="normal" >C</text>
<text x="232.17" y="438.70" font-size="10.67" fill="#111" text-anchor="middle" font-weight="normal" font-style="normal" >G</text>
<text x="239.81" y="438.70" font-size="10.67" fill="#111" text-anchor="middle" font-weight="normal" font-style="normal" >G</text>
<text x="247.46" y="438.70" font-size="10.67" fill="#111" text-anchor="middle" font-weight="normal" font-style="normal" >G</text>
<text x="255.10" y="438.70" font-size="10.67" fill="#111" text-anchor="middle" font-weight="normal" font-style="normal" >T</text>
<text x="262.75" y="438.70" font-size="10.67" fill="#111" text-anchor="middle" font-weight="normal" font-style="normal" >C</text>
<text x="270.39" y="438.70" font-size="10.67" fill="#111" text-anchor="middle" font-weight="normal" font-style="normal" >C</text>
<text x="278.04" y="438.70" font-size="10.67" fill="#111" text-anchor="middle" font-weight="normal" font-style="normal" >C</text>
<text x="285.68" y="438.70" font-size="10.67" fill="#111" text-anchor="middle" font-weight="normal" font-style="normal" >C</text>
<text x="293.33" y="438.70" font-size="10.67" fill="#111" text-anchor="middle" font-weight="normal" font-style="normal" >G</text>
<text x="300.97" y="438.70" font-size="10.67" fill="#111" text-anchor="middle" font-weight="normal" font-style="normal" >G</text>
<text x="308.62" y="438.70" font-size="10.67" fill="#111" text-anchor="middle" font-weight="normal" font-style="normal" >C</text>
<text x="316.26" y="438.70" font-size="10.67" fill="#111" text-anchor="middle" font-weight="normal" font-style="normal" >C</text>
<text x="323.91" y="438.70" font-size="10.67" fill="#111" text-anchor="middle" font-weight="normal" font-style="normal" >C</text>
<text x="331.55" y="438.70" font-size="10.67" fill="#111" text-anchor="middle" font-weight="normal" font-style="normal" >A</text>
<text x="339.20" y="438.70" font-size="10.67" fill="#111" text-anchor="middle" font-weight="normal" font-style="normal" >G</text>
<text x="346.84" y="438.70" font-size="10.67" fill="#111" text-anchor="middle" font-weight="normal" font-style="normal" >C</text>
<text x="354.49" y="438.70" font-size="10.67" fill="#111" text-anchor="middle" font-weight="normal" font-style="normal" >C</text>
<text x="362.13" y="438.70" font-size="10.67" fill="#111" text-anchor="middle" font-weight="normal" font-style="normal" >C</text>
<text x="369.78" y="438.70" font-size="10.67" fill="#111" text-anchor="middle" font-weight="normal" font-style="normal" >C</text>
<text x="377.42" y="438.70" font-size="10.67" fill="#111" text-anchor="middle" font-weight="normal" font-style="normal" >C</text>
<text x="385.07" y="438.70" font-size="10.67" fill="#111" text-anchor="middle" font-weight="normal" font-style="normal" >T</text>
<text x="392.71" y="438.70" font-size="10.67" fill="#111" text-anchor="middle" font-weight="normal" font-style="normal" >C</text>
<text x="400.36" y="438.70" font-size="10.67" fill="#111" text-anchor="middle" font-weight="normal" font-style="normal" >C</text>
<text x="408.00" y="438.70" font-size="10.67" fill="#111" text-anchor="middle" font-weight="normal" font-style="normal" >G</text>
<text x="415.65" y="438.70" font-size="10.67" fill="#111" text-anchor="middle" font-weight="normal" font-style="normal" >G</text>
<text x="423.29" y="438.70" font-size="10.67" fill="#111" text-anchor="middle" font-weight="normal" font-style="normal" >G</text>
<text x="430.94" y="438.70" font-size="10.67" fill="#111" text-anchor="middle" font-weight="normal" font-style="normal" >C</text>
<text x="438.58" y="438.70" font-size="10.67" fill="#111" text-anchor="middle" font-weight="normal" font-style="normal" >C</text>
<text x="446.23" y="438.70" font-size="10.67" fill="#111" text-anchor="middle" font-weight="normal" font-style="normal" >C</text>
<text x="453.87" y="438.70" font-size="10.67" fill="#111" text-anchor="middle" font-weight="normal" font-style="normal" >T</text>
<text x="461.52" y="438.70" font-size="10.67" fill="#111" text-anchor="middle" font-weight="normal" font-style="normal" >C</text>
<text x="469.16" y="438.70" font-size="10.67" fill="#111" text-anchor="middle" font-weight="normal" font-style="normal" >C</text>
<text x="476.81" y="438.70" font-size="10.67" fill="#111" text-anchor="middle" font-weight="normal" font-style="normal" >C</text>
<text x="484.45" y="438.70" font-size="10.67" fill="#111" text-anchor="middle" font-weight="normal" font-style="normal" >A</text>
<text x="492.10" y="438.70" font-size="10.67" fill="#111" text-anchor="middle" font-weight="normal" font-style="normal" >G</text>
<text x="499.74" y="438.70" font-size="10.67" fill="#111" text-anchor="middle" font-weight="normal" font-style="normal" >C</text>
<text x="507.39" y="438.70" font-size="10.67" fill="#111" text-anchor="middle" font-weight="normal" font-style="normal" >C</text>
<text x="515.03" y="438.70" font-size="10.67" fill="#111" text-anchor="middle" font-weight="normal" font-style="normal" >C</text>
<text x="522.68" y="438.70" font-size="10.67" fill="#111" text-anchor="middle" font-weight="normal" font-style="normal" >C</text>
<text x="530.32" y="438.70" font-size="10.67" fill="#111" text-anchor="middle" font-weight="normal" font-style="normal" >T</text>
<text x="537.97" y="438.70" font-size="10.67" fill="#111" text-anchor="middle" font-weight="normal" font-style="normal" >C</text>
<text x="545.61" y="438.70" font-size="10.67" fill="#111" text-anchor="middle" font-weight="normal" font-style="normal" >C</text>
<text x="553.26" y="438.70" font-size="10.67" fill="#e2503e" text-anchor="middle" font-weight="normal" font-style="normal" >C</text>
<text x="560.90" y="438.70" font-size="10.67" fill="#e2503e" text-anchor="middle" font-weight="normal" font-style="normal" >C</text>
<text x="568.55" y="438.70" font-size="10.67" fill="#111" text-anchor="middle" font-weight="normal" font-style="normal" >T</text>
<text x="576.19" y="438.70" font-size="10.67" fill="#111" text-anchor="middle" font-weight="normal" font-style="normal" >T</text>
<text x="583.84" y="438.70" font-size="10.67" fill="#111" text-anchor="middle" font-weight="normal" font-style="normal" >C</text>
<text x="591.48" y="438.70" font-size="10.67" fill="#111" text-anchor="middle" font-weight="normal" font-style="normal" >C</text>
<text x="599.13" y="438.70" font-size="10.67" fill="#111" text-anchor="middle" font-weight="normal" font-style="normal" >T</text>
<text x="606.77" y="438.70" font-size="10.67" fill="#111" text-anchor="middle" font-weight="normal" font-style="normal" >T</text>
<text x="614.42" y="438.70" font-size="10.67" fill="#111" text-anchor="middle" font-weight="normal" font-style="normal" >T</text>
<text x="622.06" y="438.70" font-size="10.67" fill="#111" text-anchor="middle" font-weight="normal" font-style="normal" >C</text>
<text x="629.71" y="438.70" font-size="10.67" fill="#111" text-anchor="middle" font-weight="normal" font-style="normal" >C</text>
<text x="637.35" y="438.70" font-size="10.67" fill="#111" text-anchor="middle" font-weight="normal" font-style="normal" >G</text>
<text x="645.00" y="438.70" font-size="10.67" fill="#111" text-anchor="middle" font-weight="normal" font-style="normal" >C</text>
<text x="652.64" y="438.70" font-size="10.67" fill="#111" text-anchor="middle" font-weight="normal" font-style="normal" >G</text>
<text x="660.29" y="438.70" font-size="10.67" fill="#111" text-anchor="middle" font-weight="normal" font-style="normal" >G</text>
<text x="667.93" y="438.70" font-size="10.67" fill="#111" text-anchor="middle" font-weight="normal" font-style="normal" >C</text>
<line x1="182.28" y1="439.90" x2="197.56" y2="439.90" stroke="#f2a69c" stroke-width="1.3" />
<line x1="549.23" y1="439.90" x2="564.52" y2="439.90" stroke="#f2a69c" stroke-width="1.3" />
<text x="64.40" y="438.20" font-size="7.4" fill="#1a1a1a" text-anchor="end" font-weight="normal" font-style="normal" >-165</text>
<text x="673.90" y="438.30" font-size="7.6" fill="#1a1a1a" text-anchor="start" font-weight="normal" font-style="normal" >-85</text>
<text x="80.00" y="364.40" font-size="10.4" fill="#1a1a1a" text-anchor="start" font-weight="normal" font-style="normal" >-146 bp mutant allele</text>
<text x="80" y="376.40" font-size="10.4" fill="#1a1a1a">reads (<tspan font-style="italic">n</tspan> = 8,305)</text>
<text x="80.00" y="498.50" font-size="10.4" fill="#1a1a1a" text-anchor="start" font-weight="normal" font-style="normal" >-146 bp wild-type allele</text>
<text x="80" y="509.70" font-size="10.4" fill="#1a1a1a">reads (<tspan font-style="italic">n</tspan> = 3,701)</text>
<text x="218.80" y="360.40" font-size="10.4" fill="#fa7a1e" text-anchor="start" font-weight="normal" font-style="normal" >-146</text>
<text x="218.80" y="372.60" font-size="10.4" fill="#fa7a1e" text-anchor="start" font-weight="normal" font-style="normal" >(C250T)</text>
<text x="240.80" y="402.70" font-size="10.4" fill="#b3b18c" text-anchor="start" font-weight="normal" font-style="normal" >Proto-ETS site</text>
<line x1="255.00" y1="405.80" x2="235.50" y2="423.50" stroke="#b3b18c" stroke-width="0.8" />
<text x="587.10" y="407.30" font-size="10.4" fill="#b3b18c" text-anchor="start" font-weight="normal" font-style="normal" >Native ETS site</text>
<line x1="602.00" y1="410.10" x2="590.10" y2="421.30" stroke="#b3b18c" stroke-width="0.8" />
<text x="4.80" y="350.90" font-size="17" fill="#111" text-anchor="start" font-weight="bold" font-style="normal" >c</text>
<line x1="68.20" y1="542.10" x2="672.10" y2="542.10" stroke="#d2d2d2" stroke-width="1.5" />
<line x1="68.20" y1="544.61" x2="672.10" y2="544.61" stroke="#d2d2d2" stroke-width="1.5" />
<line x1="68.20" y1="547.12" x2="672.10" y2="547.12" stroke="#d2d2d2" stroke-width="1.5" />
<line x1="68.20" y1="549.63" x2="672.10" y2="549.63" stroke="#d2d2d2" stroke-width="1.5" />
<line x1="68.20" y1="552.14" x2="672.10" y2="552.14" stroke="#d2d2d2" stroke-width="1.5" />
<line x1="68.20" y1="554.65" x2="672.10" y2="554.65" stroke="#d2d2d2" stroke-width="1.5" />
<line x1="68.20" y1="557.16" x2="672.10" y2="557.16" stroke="#d2d2d2" stroke-width="1.5" />
<line x1="68.20" y1="559.67" x2="672.10" y2="559.67" stroke="#d2d2d2" stroke-width="1.5" />
<line x1="68.20" y1="562.18" x2="672.10" y2="562.18" stroke="#d2d2d2" stroke-width="1.5" />
<line x1="68.20" y1="564.69" x2="672.10" y2="564.69" stroke="#d2d2d2" stroke-width="1.5" />
<line x1="68.20" y1="567.20" x2="672.10" y2="567.20" stroke="#d2d2d2" stroke-width="1.5" />
<line x1="68.20" y1="569.71" x2="672.10" y2="569.71" stroke="#d2d2d2" stroke-width="1.5" />
<line x1="68.20" y1="572.22" x2="672.10" y2="572.22" stroke="#d2d2d2" stroke-width="1.5" />
<line x1="68.20" y1="574.73" x2="672.10" y2="574.73" stroke="#d2d2d2" stroke-width="1.5" />
<line x1="68.20" y1="577.24" x2="672.10" y2="577.24" stroke="#d2d2d2" stroke-width="1.5" />
<line x1="68.20" y1="579.75" x2="672.10" y2="579.75" stroke="#d2d2d2" stroke-width="1.5" />
<line x1="68.20" y1="582.26" x2="672.10" y2="582.26" stroke="#d2d2d2" stroke-width="1.5" />
<line x1="68.20" y1="584.77" x2="672.10" y2="584.77" stroke="#d2d2d2" stroke-width="1.5" />
<line x1="68.20" y1="587.28" x2="672.10" y2="587.28" stroke="#d2d2d2" stroke-width="1.5" />
<line x1="68.20" y1="589.79" x2="672.10" y2="589.79" stroke="#d2d2d2" stroke-width="1.5" />
<line x1="68.20" y1="592.30" x2="672.10" y2="592.30" stroke="#d2d2d2" stroke-width="1.5" />
<line x1="68.20" y1="594.81" x2="672.10" y2="594.81" stroke="#d2d2d2" stroke-width="1.5" />
<line x1="68.20" y1="597.32" x2="672.10" y2="597.32" stroke="#d2d2d2" stroke-width="1.5" />
<line x1="68.20" y1="599.83" x2="672.10" y2="599.83" stroke="#d2d2d2" stroke-width="1.5" />
<line x1="68.20" y1="602.34" x2="672.10" y2="602.34" stroke="#d2d2d2" stroke-width="1.5" />
<line x1="68.20" y1="604.85" x2="672.10" y2="604.85" stroke="#d2d2d2" stroke-width="1.5" />
<line x1="68.20" y1="607.36" x2="672.10" y2="607.36" stroke="#d2d2d2" stroke-width="1.5" />
<line x1="68.20" y1="609.87" x2="672.10" y2="609.87" stroke="#d2d2d2" stroke-width="1.5" />
<line x1="68.20" y1="612.38" x2="672.10" y2="612.38" stroke="#d2d2d2" stroke-width="1.5" />
<line x1="68.20" y1="614.89" x2="672.10" y2="614.89" stroke="#d2d2d2" stroke-width="1.5" />
<line x1="68.20" y1="617.40" x2="672.10" y2="617.40" stroke="#d2d2d2" stroke-width="1.5" />
<line x1="68.20" y1="619.91" x2="672.10" y2="619.91" stroke="#d2d2d2" stroke-width="1.5" />
<line x1="68.20" y1="622.42" x2="672.10" y2="622.42" stroke="#d2d2d2" stroke-width="1.5" />
<line x1="68.20" y1="624.93" x2="672.10" y2="624.93" stroke="#d2d2d2" stroke-width="1.5" />
<line x1="68.20" y1="627.44" x2="672.10" y2="627.44" stroke="#d2d2d2" stroke-width="1.5" />
<line x1="68.20" y1="629.95" x2="672.10" y2="629.95" stroke="#d2d2d2" stroke-width="1.5" />
<line x1="68.20" y1="632.46" x2="672.10" y2="632.46" stroke="#d2d2d2" stroke-width="1.5" />
<line x1="68.20" y1="634.97" x2="672.10" y2="634.97" stroke="#d2d2d2" stroke-width="1.5" />
<line x1="68.20" y1="637.48" x2="672.10" y2="637.48" stroke="#d2d2d2" stroke-width="1.5" />
<line x1="68.20" y1="639.99" x2="672.10" y2="639.99" stroke="#d2d2d2" stroke-width="1.5" />
<line x1="68.20" y1="642.50" x2="672.10" y2="642.50" stroke="#d2d2d2" stroke-width="1.5" />
<line x1="68.20" y1="645.01" x2="672.10" y2="645.01" stroke="#d2d2d2" stroke-width="1.5" />
<line x1="68.20" y1="647.52" x2="672.10" y2="647.52" stroke="#d2d2d2" stroke-width="1.5" />
<line x1="68.20" y1="650.03" x2="672.10" y2="650.03" stroke="#d2d2d2" stroke-width="1.5" />
<line x1="68.20" y1="652.54" x2="672.10" y2="652.54" stroke="#d2d2d2" stroke-width="1.5" />
<line x1="68.20" y1="655.05" x2="672.10" y2="655.05" stroke="#d2d2d2" stroke-width="1.5" />
<line x1="68.20" y1="657.56" x2="672.10" y2="657.56" stroke="#d2d2d2" stroke-width="1.5" />
<line x1="68.20" y1="660.07" x2="672.10" y2="660.07" stroke="#d2d2d2" stroke-width="1.5" />
<line x1="68.20" y1="662.58" x2="672.10" y2="662.58" stroke="#d2d2d2" stroke-width="1.5" />
<line x1="68.20" y1="665.09" x2="672.10" y2="665.09" stroke="#d2d2d2" stroke-width="1.5" />
<line x1="68.20" y1="667.60" x2="672.10" y2="667.60" stroke="#d2d2d2" stroke-width="1.5" />
<line x1="68.20" y1="670.11" x2="672.10" y2="670.11" stroke="#d2d2d2" stroke-width="1.5" />
<line x1="68.20" y1="672.62" x2="672.10" y2="672.62" stroke="#d2d2d2" stroke-width="1.5" />
<line x1="68.20" y1="675.13" x2="672.10" y2="675.13" stroke="#d2d2d2" stroke-width="1.5" />
<line x1="68.20" y1="677.64" x2="672.10" y2="677.64" stroke="#d2d2d2" stroke-width="1.5" />
<line x1="68.20" y1="680.15" x2="672.10" y2="680.15" stroke="#d2d2d2" stroke-width="1.5" />
<line x1="68.20" y1="682.66" x2="672.10" y2="682.66" stroke="#d2d2d2" stroke-width="1.5" />
<line x1="68.20" y1="685.17" x2="672.10" y2="685.17" stroke="#d2d2d2" stroke-width="1.5" />
<line x1="68.20" y1="687.68" x2="672.10" y2="687.68" stroke="#d2d2d2" stroke-width="1.5" />
<line x1="68.20" y1="690.19" x2="672.10" y2="690.19" stroke="#d2d2d2" stroke-width="1.5" />
<line x1="68.20" y1="692.70" x2="672.10" y2="692.70" stroke="#d2d2d2" stroke-width="1.5" />
<line x1="68.20" y1="695.21" x2="672.10" y2="695.21" stroke="#d2d2d2" stroke-width="1.5" />
<line x1="68.20" y1="697.72" x2="672.10" y2="697.72" stroke="#d2d2d2" stroke-width="1.5" />
<line x1="68.20" y1="700.23" x2="672.10" y2="700.23" stroke="#d2d2d2" stroke-width="1.5" />
<line x1="182.95" y1="572.22" x2="189.65" y2="572.22" stroke="#fc2a2a" stroke-width="1.4" />
<line x1="182.95" y1="574.73" x2="189.65" y2="574.73" stroke="#fc2a2a" stroke-width="1.4" />
<line x1="182.95" y1="577.24" x2="189.65" y2="577.24" stroke="#fc2a2a" stroke-width="1.4" />
<line x1="182.95" y1="579.75" x2="189.65" y2="579.75" stroke="#fc2a2a" stroke-width="1.4" />
<line x1="182.95" y1="582.26" x2="189.65" y2="582.26" stroke="#fc2a2a" stroke-width="1.4" />
<line x1="182.95" y1="584.77" x2="189.65" y2="584.77" stroke="#fc2a2a" stroke-width="1.4" />
<line x1="182.95" y1="587.28" x2="189.65" y2="587.28" stroke="#fc2a2a" stroke-width="1.4" />
<line x1="182.95" y1="589.79" x2="189.65" y2="589.79" stroke="#fc2a2a" stroke-width="1.4" />
<line x1="182.95" y1="592.30" x2="189.65" y2="592.30" stroke="#fc2a2a" stroke-width="1.4" />
<line x1="182.95" y1="594.81" x2="189.65" y2="594.81" stroke="#fc2a2a" stroke-width="1.4" />
<line x1="182.95" y1="597.32" x2="189.65" y2="597.32" stroke="#fc2a2a" stroke-width="1.4" />
<line x1="190.59" y1="572.22" x2="197.29" y2="572.22" stroke="#fc2a2a" stroke-width="1.4" />
<line x1="190.59" y1="574.73" x2="197.29" y2="574.73" stroke="#fc2a2a" stroke-width="1.4" />
<line x1="190.59" y1="604.85" x2="197.29" y2="604.85" stroke="#fc2a2a" stroke-width="1.4" />
<line x1="190.59" y1="607.36" x2="197.29" y2="607.36" stroke="#fc2a2a" stroke-width="1.4" />
<line x1="190.59" y1="609.87" x2="197.29" y2="609.87" stroke="#fc2a2a" stroke-width="1.4" />
<line x1="190.59" y1="612.38" x2="197.29" y2="612.38" stroke="#fc2a2a" stroke-width="1.4" />
<line x1="190.59" y1="614.89" x2="197.29" y2="614.89" stroke="#fc2a2a" stroke-width="1.4" />
<line x1="190.59" y1="617.40" x2="197.29" y2="617.40" stroke="#fc2a2a" stroke-width="1.4" />
<line x1="190.59" y1="619.91" x2="197.29" y2="619.91" stroke="#fc2a2a" stroke-width="1.4" />
<line x1="190.59" y1="622.42" x2="197.29" y2="622.42" stroke="#fc2a2a" stroke-width="1.4" />
<line x1="205.88" y1="542.10" x2="212.58" y2="542.10" stroke="#fc2a2a" stroke-width="1.4" />
<line x1="205.88" y1="544.61" x2="212.58" y2="544.61" stroke="#fc2a2a" stroke-width="1.4" />
<line x1="205.88" y1="547.12" x2="212.58" y2="547.12" stroke="#fc2a2a" stroke-width="1.4" />
<line x1="205.88" y1="549.63" x2="212.58" y2="549.63" stroke="#fc2a2a" stroke-width="1.4" />
<line x1="205.88" y1="552.14" x2="212.58" y2="552.14" stroke="#fc2a2a" stroke-width="1.4" />
<line x1="205.88" y1="554.65" x2="212.58" y2="554.65" stroke="#fc2a2a" stroke-width="1.4" />
<line x1="205.88" y1="557.16" x2="212.58" y2="557.16" stroke="#fc2a2a" stroke-width="1.4" />
<line x1="205.88" y1="559.67" x2="212.58" y2="559.67" stroke="#fc2a2a" stroke-width="1.4" />
<line x1="205.88" y1="562.18" x2="212.58" y2="562.18" stroke="#fc2a2a" stroke-width="1.4" />
<line x1="205.88" y1="564.69" x2="212.58" y2="564.69" stroke="#fc2a2a" stroke-width="1.4" />
<line x1="205.88" y1="567.20" x2="212.58" y2="567.20" stroke="#fc2a2a" stroke-width="1.4" />
<line x1="205.88" y1="569.71" x2="212.58" y2="569.71" stroke="#fc2a2a" stroke-width="1.4" />
<line x1="205.88" y1="572.22" x2="212.58" y2="572.22" stroke="#fc2a2a" stroke-width="1.4" />
<line x1="205.88" y1="574.73" x2="212.58" y2="574.73" stroke="#fc2a2a" stroke-width="1.4" />
<line x1="205.88" y1="577.24" x2="212.58" y2="577.24" stroke="#fc2a2a" stroke-width="1.4" />
<line x1="205.88" y1="579.75" x2="212.58" y2="579.75" stroke="#fc2a2a" stroke-width="1.4" />
<line x1="205.88" y1="582.26" x2="212.58" y2="582.26" stroke="#fc2a2a" stroke-width="1.4" />
<line x1="205.88" y1="584.77" x2="212.58" y2="584.77" stroke="#fc2a2a" stroke-width="1.4" />
<line x1="205.88" y1="587.28" x2="212.58" y2="587.28" stroke="#fc2a2a" stroke-width="1.4" />
<line x1="205.88" y1="589.79" x2="212.58" y2="589.79" stroke="#fc2a2a" stroke-width="1.4" />
<line x1="205.88" y1="592.30" x2="212.58" y2="592.30" stroke="#fc2a2a" stroke-width="1.4" />
<line x1="205.88" y1="594.81" x2="212.58" y2="594.81" stroke="#fc2a2a" stroke-width="1.4" />
<line x1="205.88" y1="597.32" x2="212.58" y2="597.32" stroke="#fc2a2a" stroke-width="1.4" />
<line x1="205.88" y1="599.83" x2="212.58" y2="599.83" stroke="#fc2a2a" stroke-width="1.4" />
<line x1="205.88" y1="602.34" x2="212.58" y2="602.34" stroke="#fc2a2a" stroke-width="1.4" />
<line x1="205.88" y1="604.85" x2="212.58" y2="604.85" stroke="#fc2a2a" stroke-width="1.4" />
<line x1="205.88" y1="607.36" x2="212.58" y2="607.36" stroke="#fc2a2a" stroke-width="1.4" />
<line x1="205.88" y1="609.87" x2="212.58" y2="609.87" stroke="#fc2a2a" stroke-width="1.4" />
<line x1="205.88" y1="612.38" x2="212.58" y2="612.38" stroke="#fc2a2a" stroke-width="1.4" />
<line x1="205.88" y1="614.89" x2="212.58" y2="614.89" stroke="#fc2a2a" stroke-width="1.4" />
<line x1="205.88" y1="617.40" x2="212.58" y2="617.40" stroke="#fc2a2a" stroke-width="1.4" />
<line x1="205.88" y1="619.91" x2="212.58" y2="619.91" stroke="#fc2a2a" stroke-width="1.4" />
<line x1="205.88" y1="622.42" x2="212.58" y2="622.42" stroke="#fc2a2a" stroke-width="1.4" />
<line x1="205.88" y1="624.93" x2="212.58" y2="624.93" stroke="#fc2a2a" stroke-width="1.4" />
<line x1="205.88" y1="627.44" x2="212.58" y2="627.44" stroke="#fc2a2a" stroke-width="1.4" />
<line x1="205.88" y1="629.95" x2="212.58" y2="629.95" stroke="#fc2a2a" stroke-width="1.4" />
<line x1="205.88" y1="632.46" x2="212.58" y2="632.46" stroke="#fc2a2a" stroke-width="1.4" />
<line x1="205.88" y1="634.97" x2="212.58" y2="634.97" stroke="#fc2a2a" stroke-width="1.4" />
<line x1="205.88" y1="637.48" x2="212.58" y2="637.48" stroke="#fc2a2a" stroke-width="1.4" />
<line x1="205.88" y1="639.99" x2="212.58" y2="639.99" stroke="#fc2a2a" stroke-width="1.4" />
<line x1="205.88" y1="642.50" x2="212.58" y2="642.50" stroke="#fc2a2a" stroke-width="1.4" />
<line x1="205.88" y1="645.01" x2="212.58" y2="645.01" stroke="#fc2a2a" stroke-width="1.4" />
<line x1="205.88" y1="647.52" x2="212.58" y2="647.52" stroke="#fc2a2a" stroke-width="1.4" />
<line x1="205.88" y1="650.03" x2="212.58" y2="650.03" stroke="#fc2a2a" stroke-width="1.4" />
<line x1="205.88" y1="652.54" x2="212.58" y2="652.54" stroke="#fc2a2a" stroke-width="1.4" />
<line x1="205.88" y1="655.05" x2="212.58" y2="655.05" stroke="#fc2a2a" stroke-width="1.4" />
<line x1="205.88" y1="657.56" x2="212.58" y2="657.56" stroke="#fc2a2a" stroke-width="1.4" />
<line x1="205.88" y1="660.07" x2="212.58" y2="660.07" stroke="#fc2a2a" stroke-width="1.4" />
<line x1="205.88" y1="662.58" x2="212.58" y2="662.58" stroke="#fc2a2a" stroke-width="1.4" />
<line x1="205.88" y1="665.09" x2="212.58" y2="665.09" stroke="#fc2a2a" stroke-width="1.4" />
<line x1="205.88" y1="667.60" x2="212.58" y2="667.60" stroke="#fc2a2a" stroke-width="1.4" />
<line x1="205.88" y1="670.11" x2="212.58" y2="670.11" stroke="#fc2a2a" stroke-width="1.4" />
<line x1="205.88" y1="672.62" x2="212.58" y2="672.62" stroke="#fc2a2a" stroke-width="1.4" />
<line x1="205.88" y1="675.13" x2="212.58" y2="675.13" stroke="#fc2a2a" stroke-width="1.4" />
<line x1="205.88" y1="677.64" x2="212.58" y2="677.64" stroke="#fc2a2a" stroke-width="1.4" />
<line x1="205.88" y1="680.15" x2="212.58" y2="680.15" stroke="#fc2a2a" stroke-width="1.4" />
<line x1="205.88" y1="682.66" x2="212.58" y2="682.66" stroke="#fc2a2a" stroke-width="1.4" />
<line x1="205.88" y1="685.17" x2="212.58" y2="685.17" stroke="#fc2a2a" stroke-width="1.4" />
<line x1="213.53" y1="637.48" x2="220.23" y2="637.48" stroke="#fc2a2a" stroke-width="1.4" />
<line x1="213.53" y1="639.99" x2="220.23" y2="639.99" stroke="#fc2a2a" stroke-width="1.4" />
<line x1="213.53" y1="642.50" x2="220.23" y2="642.50" stroke="#fc2a2a" stroke-width="1.4" />
<line x1="213.53" y1="645.01" x2="220.23" y2="645.01" stroke="#fc2a2a" stroke-width="1.4" />
<line x1="213.53" y1="690.19" x2="220.23" y2="690.19" stroke="#fc2a2a" stroke-width="1.4" />
<line x1="267.04" y1="667.60" x2="273.74" y2="667.60" stroke="#fc2a2a" stroke-width="1.4" />
<line x1="267.04" y1="670.11" x2="273.74" y2="670.11" stroke="#fc2a2a" stroke-width="1.4" />
<line x1="267.04" y1="672.62" x2="273.74" y2="672.62" stroke="#fc2a2a" stroke-width="1.4" />
<line x1="267.04" y1="675.13" x2="273.74" y2="675.13" stroke="#fc2a2a" stroke-width="1.4" />
<line x1="274.69" y1="692.70" x2="281.39" y2="692.70" stroke="#fc2a2a" stroke-width="1.4" />
<line x1="274.69" y1="695.21" x2="281.39" y2="695.21" stroke="#fc2a2a" stroke-width="1.4" />
<line x1="274.69" y1="697.72" x2="281.39" y2="697.72" stroke="#fc2a2a" stroke-width="1.4" />
<line x1="289.98" y1="657.56" x2="296.68" y2="657.56" stroke="#fc2a2a" stroke-width="1.4" />
<line x1="289.98" y1="660.07" x2="296.68" y2="660.07" stroke="#fc2a2a" stroke-width="1.4" />
<line x1="289.98" y1="662.58" x2="296.68" y2="662.58" stroke="#fc2a2a" stroke-width="1.4" />
<line x1="289.98" y1="665.09" x2="296.68" y2="665.09" stroke="#fc2a2a" stroke-width="1.4" />
<line x1="297.62" y1="657.56" x2="304.32" y2="657.56" stroke="#fc2a2a" stroke-width="1.4" />
<line x1="297.62" y1="660.07" x2="304.32" y2="660.07" stroke="#fc2a2a" stroke-width="1.4" />
<line x1="297.62" y1="662.58" x2="304.32" y2="662.58" stroke="#fc2a2a" stroke-width="1.4" />
<line x1="297.62" y1="665.09" x2="304.32" y2="665.09" stroke="#fc2a2a" stroke-width="1.4" />
<line x1="458.17" y1="682.66" x2="464.87" y2="682.66" stroke="#fc2a2a" stroke-width="1.4" />
<line x1="458.17" y1="685.17" x2="464.87" y2="685.17" stroke="#fc2a2a" stroke-width="1.4" />
<line x1="465.81" y1="647.52" x2="472.51" y2="647.52" stroke="#fc2a2a" stroke-width="1.4" />
<line x1="465.81" y1="650.03" x2="472.51" y2="650.03" stroke="#fc2a2a" stroke-width="1.4" />
<line x1="465.81" y1="652.54" x2="472.51" y2="652.54" stroke="#fc2a2a" stroke-width="1.4" />
<line x1="465.81" y1="655.05" x2="472.51" y2="655.05" stroke="#fc2a2a" stroke-width="1.4" />
<line x1="473.46" y1="624.93" x2="480.16" y2="624.93" stroke="#fc2a2a" stroke-width="1.4" />
<line x1="473.46" y1="627.44" x2="480.16" y2="627.44" stroke="#fc2a2a" stroke-width="1.4" />
<line x1="473.46" y1="629.95" x2="480.16" y2="629.95" stroke="#fc2a2a" stroke-width="1.4" />
<line x1="473.46" y1="632.46" x2="480.16" y2="632.46" stroke="#fc2a2a" stroke-width="1.4" />
<line x1="473.46" y1="634.97" x2="480.16" y2="634.97" stroke="#fc2a2a" stroke-width="1.4" />
<line x1="549.91" y1="542.10" x2="556.61" y2="542.10" stroke="#fc2a2a" stroke-width="1.4" />
<line x1="549.91" y1="544.61" x2="556.61" y2="544.61" stroke="#fc2a2a" stroke-width="1.4" />
<line x1="549.91" y1="547.12" x2="556.61" y2="547.12" stroke="#fc2a2a" stroke-width="1.4" />
<line x1="549.91" y1="549.63" x2="556.61" y2="549.63" stroke="#fc2a2a" stroke-width="1.4" />
<line x1="549.91" y1="552.14" x2="556.61" y2="552.14" stroke="#fc2a2a" stroke-width="1.4" />
<line x1="549.91" y1="554.65" x2="556.61" y2="554.65" stroke="#fc2a2a" stroke-width="1.4" />
<line x1="549.91" y1="557.16" x2="556.61" y2="557.16" stroke="#fc2a2a" stroke-width="1.4" />
<line x1="549.91" y1="599.83" x2="556.61" y2="599.83" stroke="#fc2a2a" stroke-width="1.4" />
<line x1="549.91" y1="602.34" x2="556.61" y2="602.34" stroke="#fc2a2a" stroke-width="1.4" />
<line x1="549.91" y1="687.68" x2="556.61" y2="687.68" stroke="#fc2a2a" stroke-width="1.4" />
<line x1="557.55" y1="542.10" x2="564.25" y2="542.10" stroke="#fc2a2a" stroke-width="1.4" />
<line x1="557.55" y1="544.61" x2="564.25" y2="544.61" stroke="#fc2a2a" stroke-width="1.4" />
<line x1="557.55" y1="547.12" x2="564.25" y2="547.12" stroke="#fc2a2a" stroke-width="1.4" />
<line x1="557.55" y1="549.63" x2="564.25" y2="549.63" stroke="#fc2a2a" stroke-width="1.4" />
<line x1="557.55" y1="552.14" x2="564.25" y2="552.14" stroke="#fc2a2a" stroke-width="1.4" />
<line x1="557.55" y1="554.65" x2="564.25" y2="554.65" stroke="#fc2a2a" stroke-width="1.4" />
<line x1="557.55" y1="557.16" x2="564.25" y2="557.16" stroke="#fc2a2a" stroke-width="1.4" />
<line x1="557.55" y1="559.67" x2="564.25" y2="559.67" stroke="#fc2a2a" stroke-width="1.4" />
<line x1="557.55" y1="562.18" x2="564.25" y2="562.18" stroke="#fc2a2a" stroke-width="1.4" />
<line x1="557.55" y1="564.69" x2="564.25" y2="564.69" stroke="#fc2a2a" stroke-width="1.4" />
<line x1="557.55" y1="567.20" x2="564.25" y2="567.20" stroke="#fc2a2a" stroke-width="1.4" />
<line x1="557.55" y1="569.71" x2="564.25" y2="569.71" stroke="#fc2a2a" stroke-width="1.4" />
<line x1="557.55" y1="687.68" x2="564.25" y2="687.68" stroke="#fc2a2a" stroke-width="1.4" />
<line x1="580.49" y1="680.15" x2="587.19" y2="680.15" stroke="#fc2a2a" stroke-width="1.4" />
<line x1="580.49" y1="700.23" x2="587.19" y2="700.23" stroke="#fc2a2a" stroke-width="1.4" />
<line x1="588.13" y1="677.64" x2="594.83" y2="677.64" stroke="#fc2a2a" stroke-width="1.4" />
<line x1="588.13" y1="700.23" x2="594.83" y2="700.23" stroke="#fc2a2a" stroke-width="1.4" />
<text x="157.30" y="394.00" font-size="10.4" fill="#f5c400" text-anchor="start" font-weight="normal" font-style="normal" >–149</text>
<text x="512.00" y="105.90" font-size="10.4" fill="#1a1a1a" text-anchor="start" font-weight="normal" font-style="normal" ></text>
<polygon points="511.9,100.1 519.3,100.1 515.6,106.4" fill="#555"/>
<text x="525.00" y="106.80" font-size="10.4" fill="#1a1a1a" text-anchor="start" font-weight="normal" font-style="normal" >ETS-forming driver</text>
<text x="515.60" y="118.50" font-size="10.4" fill="#e2503e" text-anchor="middle" font-weight="normal" font-style="normal" >C</text>
<line x1="511.40" y1="120.20" x2="519.20" y2="120.20" stroke="#f2a69c" stroke-width="1.3" />
<text x="525.00" y="118.50" font-size="10.4" fill="#1a1a1a" text-anchor="start" font-weight="normal" font-style="normal" >CPD hotspot in ETS motif</text>
<text x="239.50" y="277.90" font-size="10.4" fill="#1a1a1a" text-anchor="start" font-weight="normal" font-style="normal" >Consensus reads with recurrent atypical mutations</text>
<text x="239.50" y="538.20" font-size="10.4" fill="#1a1a1a" text-anchor="start" font-weight="normal" font-style="normal" >Consensus reads with recurrent atypical mutations</text>
<text transform="translate(62.3,299.0) rotate(-90)" font-size="10.4" fill="#1a1a1a" text-anchor="middle"><tspan font-style="italic">n</tspan> = 14</text>
<text transform="translate(62.3,622.3) rotate(-90)" font-size="10.4" fill="#1a1a1a" text-anchor="middle"><tspan font-style="italic">n</tspan> = 64</text>
<text x="520.40" y="326.70" font-size="10.4" fill="#3d8fca" text-anchor="start" font-weight="normal" font-style="normal" >C&gt;A</text>
<text x="545.80" y="326.70" font-size="10.4" fill="#1a1a1a" text-anchor="start" font-weight="normal" font-style="normal" >C&gt;G</text>
<text x="573.70" y="326.70" font-size="10.4" fill="#ee3333" text-anchor="start" font-weight="normal" font-style="normal" >C&gt;T</text>
<text x="599.40" y="326.70" font-size="10.4" fill="#8a8a8a" text-anchor="start" font-weight="normal" font-style="normal" >T&gt;A</text>
<text x="623.60" y="326.70" font-size="10.4" fill="#3aa040" text-anchor="start" font-weight="normal" font-style="normal" >T&gt;C</text>
<text x="649.30" y="326.70" font-size="10.4" fill="#f59be0" text-anchor="start" font-weight="normal" font-style="normal" >T&gt;G</text>
<line x1="28.40" y1="89.00" x2="28.40" y2="316.50" stroke="#333" stroke-width="1.1" />
<line x1="28.40" y1="360.00" x2="28.40" y2="701.00" stroke="#333" stroke-width="1.1" />
<text transform="translate(20.1,205.8) rotate(-90)" font-size="10.4" fill="#1a1a1a" text-anchor="middle">No UV control</text>
<text transform="translate(20.1,529.5) rotate(-90)" font-size="10.4" fill="#1a1a1a" text-anchor="middle">6 weeks UV</text>
<path d="M15.40,143.40 A14.19,14.19 0 0 1 6.70,168.80 A38.74,38.74 0 0 0 15.40,143.40Z" fill="#f3ecc4"/>
<polygon points="11.80,473.10 13.57,478.76 18.13,474.96 16.56,480.67 22.44,479.94 18.04,483.90 23.38,486.47 17.53,487.42 20.64,492.46 15.21,490.10 15.10,496.03 11.80,491.10 8.50,496.03 8.39,490.10 2.96,492.46 6.07,487.42 0.22,486.47 5.56,483.90 1.16,479.94 7.04,480.67 5.47,474.96 10.03,478.76" fill="#f6df1a"/>
</svg></body></html>
